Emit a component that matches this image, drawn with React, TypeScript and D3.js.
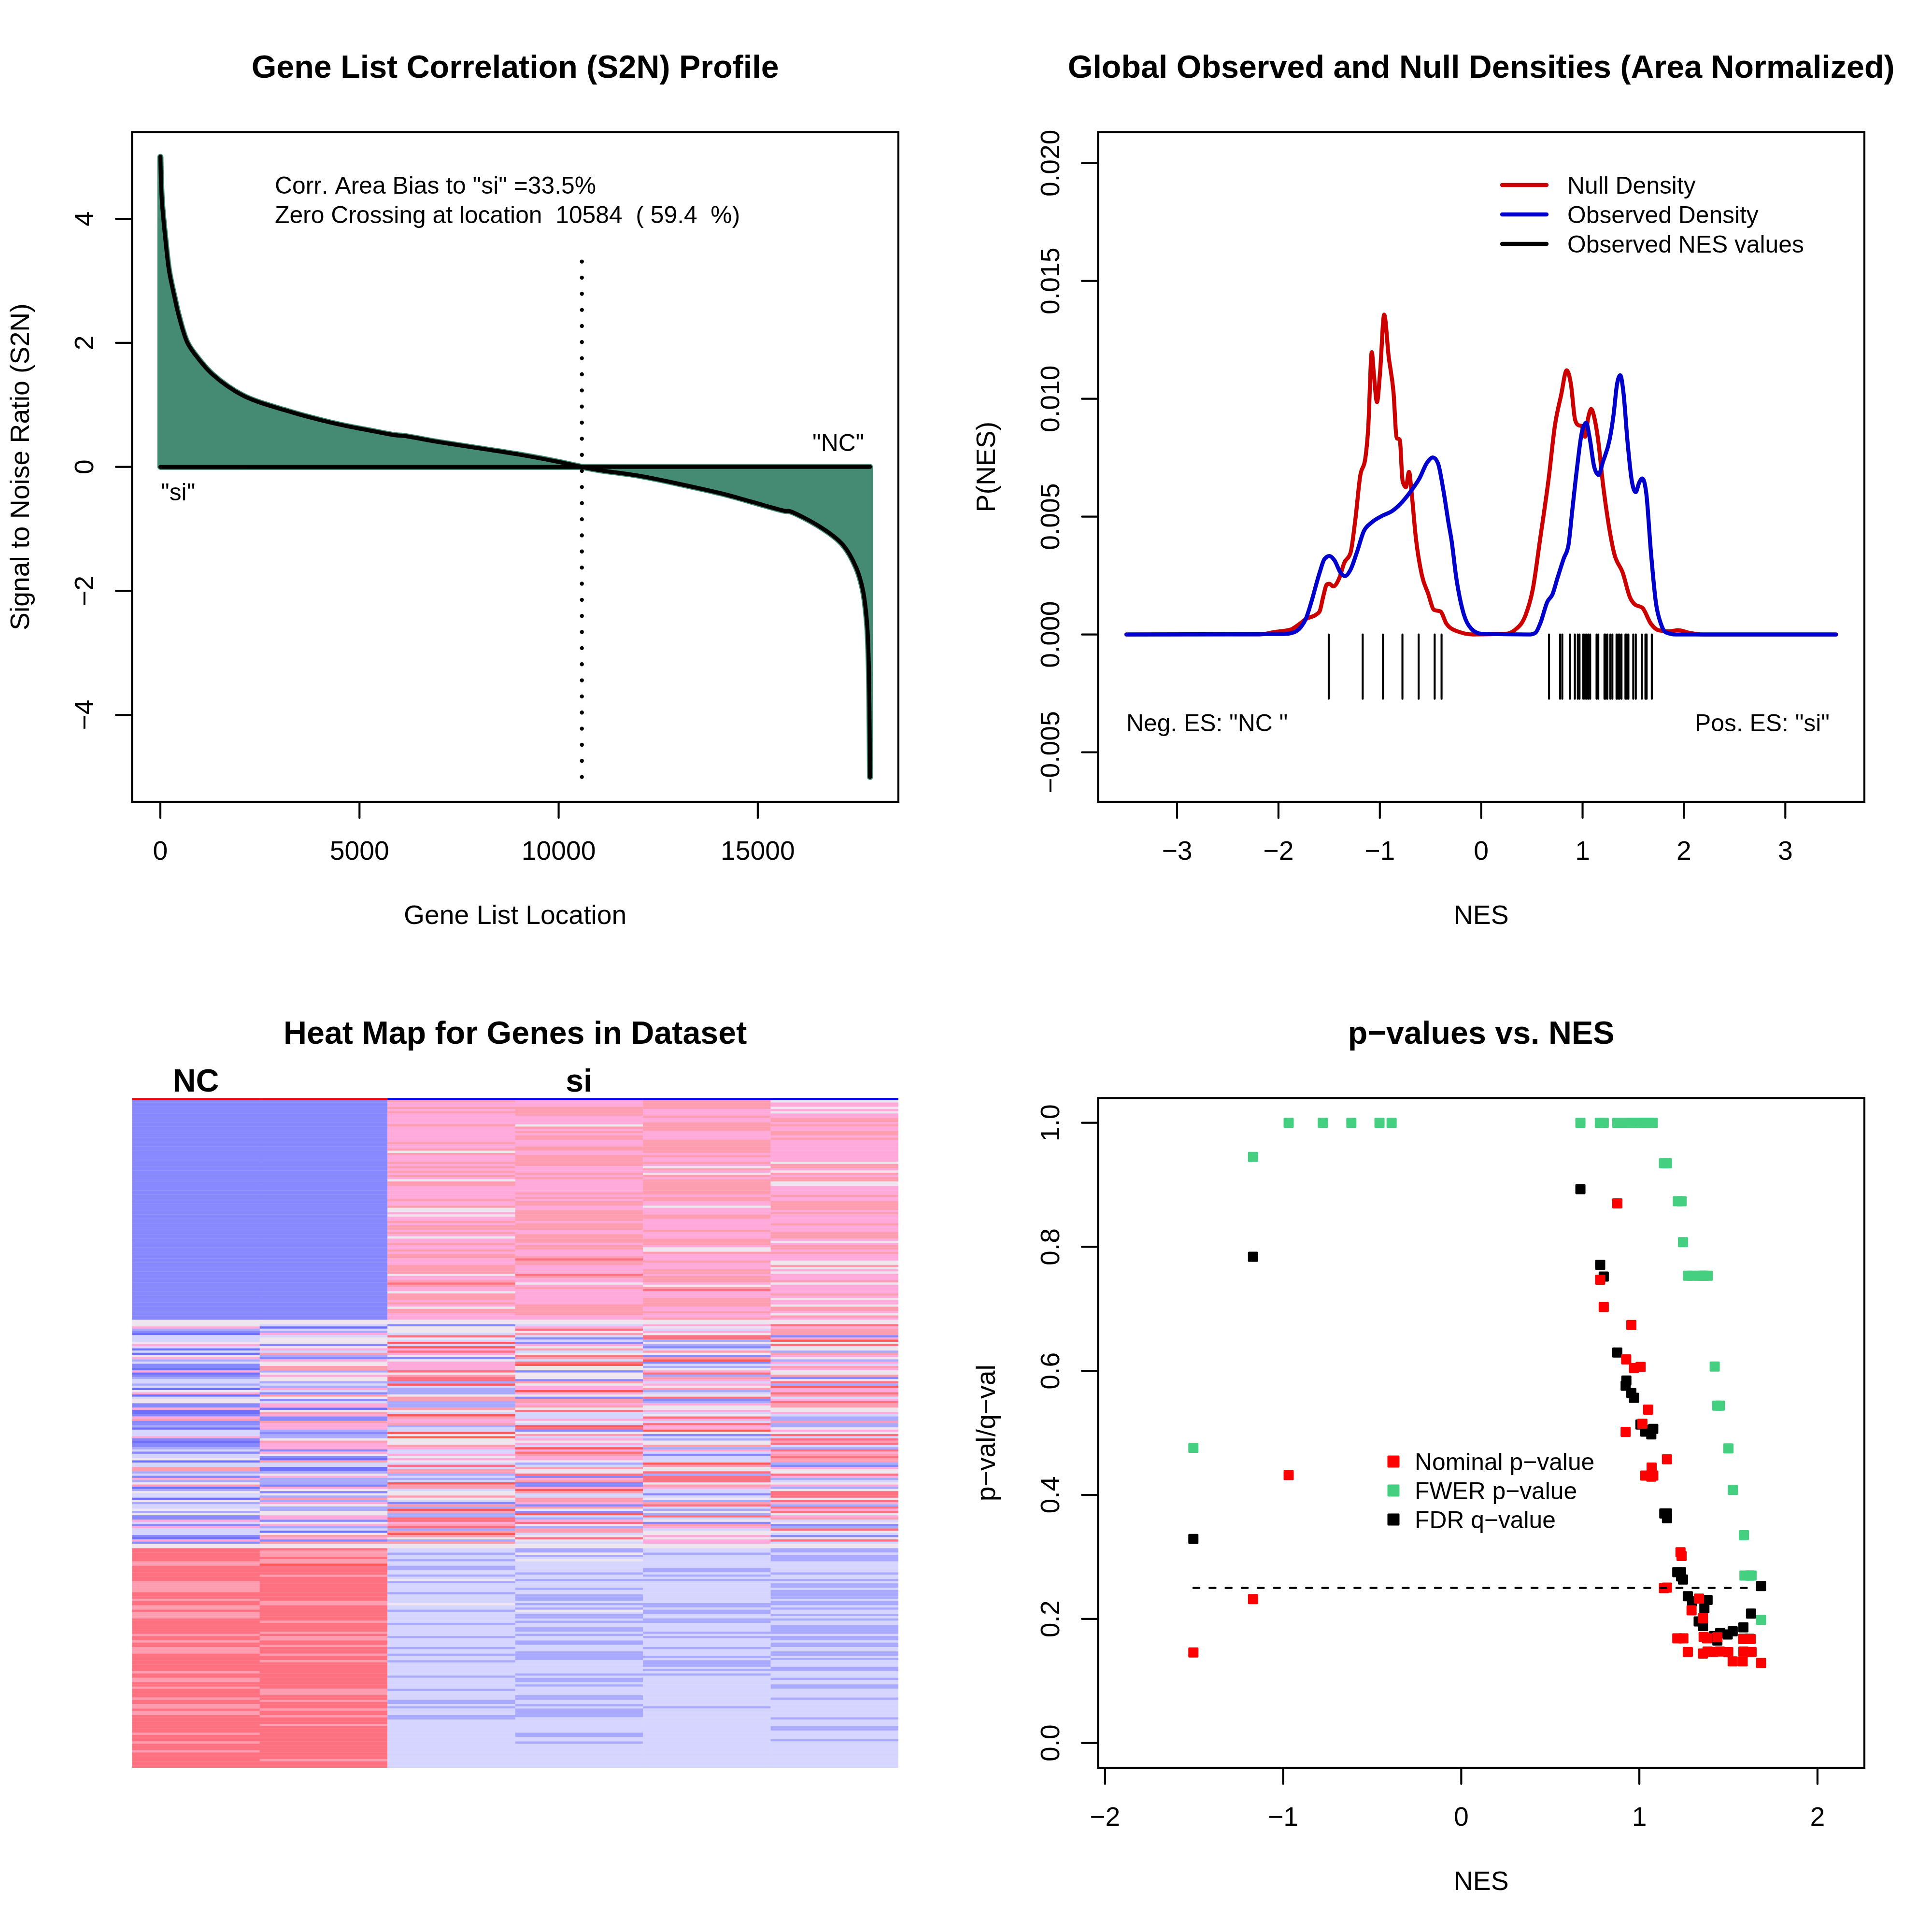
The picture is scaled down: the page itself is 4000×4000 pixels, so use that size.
import React, { useEffect, useRef } from 'react';
import * as d3 from 'd3';

// top left panel: ranked gene list
const s2nIndex = [1, 36, 118, 218, 360, 461, 679, 946, 1310, 2074, 3093, 4306, 5313, 5900, 6100, 7000, 8000, 9000, 10000, 10584, 11000, 12000, 13000, 14166, 14894, 15703, 15783, 16592, 17138, 17477, 17642, 17743, 17783, 17804, 17818];
const s2nValue = [5, 4.31, 3.72, 3.16, 2.72, 2.44, 2.0, 1.75, 1.49, 1.15, 0.92, 0.71, 0.58, 0.51, 0.5, 0.4, 0.3, 0.2, 0.08, 0, -0.05, -0.14, -0.27, -0.44, -0.57, -0.71, -0.71, -0.976, -1.255, -1.63, -1.99, -2.51, -3.07, -3.86, -5];
const zeroCross = 10584;

// top right panel: densities
const nullNes = [-3.5, -2.19, -2.04, -1.873, -1.8, -1.728, -1.63, -1.594, -1.558, -1.521, -1.497, -1.46, -1.4, -1.351, -1.29, -1.242, -1.193, -1.144, -1.115, -1.079, -1.06, -1.028, -0.998, -0.957, -0.913, -0.865, -0.833, -0.804, -0.775, -0.743, -0.712, -0.687, -0.646, -0.585, -0.524, -0.464, -0.403, -0.342, -0.245, -0.075, 0.241, 0.338, 0.436, 0.509, 0.581, 0.666, 0.727, 0.788, 0.844, 0.885, 0.927, 0.958, 0.99, 1.024, 1.056, 1.085, 1.116, 1.153, 1.201, 1.25, 1.311, 1.396, 1.469, 1.517, 1.59, 1.675, 1.748, 1.845, 1.943, 2.064, 2.186, 3.5];
const nullDensity = [0, 0, 0.0001, 0.00022, 0.00042, 0.00066, 0.00084, 0.00098, 0.00162, 0.00213, 0.00215, 0.00204, 0.00239, 0.00304, 0.00345, 0.00486, 0.00674, 0.00745, 0.00874, 0.01198, 0.0111, 0.00986, 0.0111, 0.01357, 0.0118, 0.01027, 0.00833, 0.00827, 0.0065, 0.00625, 0.0069, 0.00604, 0.00415, 0.00251, 0.00174, 0.00104, 0.00098, 0.00045, 0.00015, 0, 0.00003, 0.00021, 0.0008, 0.00192, 0.00404, 0.00663, 0.00886, 0.01015, 0.01121, 0.01062, 0.00909, 0.00888, 0.00885, 0.00839, 0.0092, 0.00957, 0.0092, 0.00827, 0.00639, 0.00486, 0.00345, 0.00262, 0.00156, 0.00127, 0.00113, 0.00045, 0.00018, 0.00013, 0.00018, 0.00006, 0, 0];
const obsNes = [-3.5, -1.946, -1.849, -1.776, -1.728, -1.679, -1.594, -1.545, -1.497, -1.448, -1.387, -1.344, -1.29, -1.229, -1.157, -1.084, -0.974, -0.877, -0.78, -0.682, -0.609, -0.537, -0.476, -0.427, -0.379, -0.318, -0.294, -0.245, -0.172, -0.099, 0, 0.484, 0.533, 0.581, 0.654, 0.703, 0.752, 0.813, 0.861, 0.897, 0.946, 0.995, 1.036, 1.068, 1.116, 1.157, 1.201, 1.267, 1.306, 1.34, 1.372, 1.403, 1.444, 1.486, 1.524, 1.559, 1.59, 1.627, 1.675, 1.724, 1.773, 1.821, 1.918, 3.5];
const obsDensity = [0, 0.00002, 0.00009, 0.00033, 0.00068, 0.00133, 0.00262, 0.00321, 0.00333, 0.00315, 0.00262, 0.00248, 0.00274, 0.00345, 0.00439, 0.00474, 0.00504, 0.00524, 0.00562, 0.00615, 0.00662, 0.00727, 0.00751, 0.00727, 0.00627, 0.00462, 0.00403, 0.00238, 0.00086, 0.00025, 0.00003, 0, 0.00006, 0.00045, 0.0014, 0.0017, 0.00239, 0.00321, 0.0038, 0.00521, 0.00709, 0.00862, 0.00898, 0.00839, 0.00709, 0.00677, 0.00733, 0.00827, 0.00933, 0.01062, 0.011, 0.01027, 0.00815, 0.00651, 0.00604, 0.00645, 0.00662, 0.00604, 0.00345, 0.00133, 0.00045, 0.00009, 0, 0];
const rugNes = [-1.504, -1.169, -0.969, -0.777, -0.617, -0.459, -0.391, 0.669, 0.778, 0.8, 0.876, 0.924, 0.953, 0.97, 1.007, 1.024, 1.041, 1.058, 1.075, 1.138, 1.155, 1.216, 1.23, 1.245, 1.274, 1.294, 1.335, 1.35, 1.364, 1.384, 1.423, 1.437, 1.452, 1.5, 1.525, 1.585, 1.62, 1.632, 1.683];

// bottom right panel: p-values
const nominalNes = [-1.504, -1.169, -0.969, 0.78, 0.8, 0.876, 0.955, 0.926, 0.97, 1.007, 1.049, 1.017, 0.923, 1.155, 1.069, 1.033, 1.067, 1.078, 1.231, 1.237, 1.138, 1.155, 1.335, 1.293, 1.357, 1.213, 1.247, 1.361, 1.38, 1.438, 1.583, 1.625, 1.272, 1.357, 1.383, 1.414, 1.452, 1.499, 1.584, 1.63, 1.524, 1.58, 1.683];
const nominalP = [0.146, 0.232, 0.432, 0.747, 0.703, 0.87, 0.674, 0.6186, 0.6047, 0.6064, 0.5376, 0.5148, 0.5017, 0.4574, 0.444, 0.4312, 0.4295, 0.4312, 0.3076, 0.3016, 0.2497, 0.2505, 0.2328, 0.2139, 0.2012, 0.1687, 0.1687, 0.171, 0.1687, 0.1705, 0.1675, 0.1675, 0.1467, 0.1442, 0.1475, 0.1467, 0.1475, 0.1465, 0.1475, 0.1467, 0.1315, 0.1315, 0.129];
const fwerNes = [-1.504, -1.169, -0.969, -0.777, -0.617, -0.459, -0.391, 0.669, 0.778, 0.8, 0.876, 0.924, 0.953, 0.97, 1.007, 1.024, 1.041, 1.058, 1.075, 1.138, 1.155, 1.216, 1.237, 1.245, 1.274, 1.294, 1.335, 1.35, 1.364, 1.384, 1.423, 1.437, 1.452, 1.5, 1.525, 1.587, 1.59, 1.62, 1.63, 1.683];
const fwerP = [0.476, 0.945, 1, 1, 1, 1, 1, 1, 1, 1, 1, 1, 1, 1, 1, 1, 1, 1, 1, 0.935, 0.935, 0.8735, 0.8735, 0.8076, 0.7534, 0.7534, 0.7534, 0.7534, 0.7534, 0.7534, 0.607, 0.544, 0.544, 0.475, 0.408, 0.335, 0.27, 0.27, 0.27, 0.1986];
const fdrNes = [-1.504, -1.169, 0.669, 0.78, 0.8, 0.876, 0.927, 0.923, 0.955, 0.97, 1.006, 1.033, 1.057, 1.078, 1.067, 1.14, 1.155, 1.155, 1.213, 1.234, 1.234, 1.245, 1.683, 1.272, 1.296, 1.383, 1.365, 1.333, 1.357, 1.627, 1.584, 1.524, 1.496, 1.454, 1.42, 1.438, 1.584, 1.62];
const fdrP = [0.329, 0.784, 0.893, 0.771, 0.752, 0.6296, 0.5844, 0.576, 0.5642, 0.5566, 0.5135, 0.502, 0.505, 0.5065, 0.4975, 0.37, 0.37, 0.3624, 0.2755, 0.2755, 0.2687, 0.2636, 0.2531, 0.2366, 0.2286, 0.2307, 0.2172, 0.196, 0.1885, 0.2087, 0.1864, 0.18, 0.175, 0.1775, 0.1724, 0.1653, 0.168, 0.168];

// bottom left panel: heat map levels, one run-length string per sample and block of rows
const heatLevels = ['B', 'C', 'D', 'E', 'F', 'G', 'H', 'I', 'J'];
const heatColors = ['#7070FF', '#8888FF', '#A9A9FF', '#D5D5FF', '#EEE5EE', '#FFAADA', '#FF9DB0', '#FF7080', '#FF5A5A'];
const heatSamples = ['s1', 's2', 's3', 's4', 's5', 's6'];
const phenotypes = ['NC', 'NC', 'si', 'si', 'si', 'si'];
const heatTop = [
  'C100',
  'C100',
  'HG2HGHG5HG7HG2HFHG3HGHGHGHGFH2G6HG2HFFGFG2HGH2GHGFG2HG2HGH2G3H4FG2HIHG2FH3GHGFH2G3',
  'G3H4G4FHGHGH2G3H2G2H5G3HGHG6HGHGH2G2H5GH3G2H4GH2G3HIH2G4IHG2FGHG7H5G2',
  'H4G3HG2H4G4H6GHG2HGFHGFHGH7GH2G2FGG2H2G5HG3H3GF2HG3HG3H2GH3GFHIG3H4G2HG2H',
  'FG2FGFG2H2GHG2H2GHG10FH2GFHGH2F2G4HG2H4GHG4HG3H3GFGH2GHG3F2HFGFG3HFG4HGFG2FH2GFHG',
];
const heatMid = [
  'F3GDCBE3FGEBEBFGDEC2BGBCDE2DEBFGBEF2C2GB2CGHC2DBE2EGCBC2DECE2FBE2H2DECGDFHBDFE2BFDE2FDFC2GECGE3CBGCF2',
  'F2EBEDGEF3CFGEHDCGF2H2DFGF2DEDGECHFCEG2BFHGC2HG3DCD2FHG3CGFCBHE2B2DFGD3CGFCFDHDGFD2F2G2CFGDEBFHGCHF2',
  'F2CF3EIFEJEJGIGFCFG4IFHI2DJED3FH2D3HFEJHG2HDE2JFJF3HGE2GFGFEIEH2DEDEJH2EF2HFECHDJHD2I2GHIDHJHFDHF2',
  'F2EGIFHECECGFHEFIHEIJF2CF3CHFG2JGFCH2GHFIE3GFEJICFHEGFGEJGIHG2FDEHF2ICGHC2GJHE2H2GCHFCJEDGIFDH2EFIFEF2',
  'F2GFEGFI2DFDCEHFCHJCEDFGIDHGEGFHDEFICDGF2GEFIGEIG2JFCEDF2HDGECE3JHF2IDI3FHGE2CEFDHIEDFDIEFCHGEF2GFG2F2',
  'F2IGH3CGJFIF2DHGFDGEHGF2HCFIDJG2IHEGIH2F2GED2HD2FGFIEIHIEDIGHIH2DCGF2IGDEFGDFI3FIGDIGIFGHEFCDIFECFIEF2',
];
const heatLow = [
  'I6H2I7H5I3HI2H2IH3I7HI2HI2H3I8HI2H2I2HI4HI2H2IH2I8HI3HI3HI7',
  'IH3IH2JI4HI11H2I7HI4HIH2I2HI3HI2HI12H3I2HI3HI2HI3HI15HI3',
  'E2DE2DE2D2E2DEFDE4DE4FE2DE5DE5DE4DE2DE2DE6DE5DE4D2EDE3D2E22',
  'D2FDEFE5DE2DE3DE2D3EDEDFED2EDE2D2EDE2D2E3D4E6DED2EDE4D2E2DED4E7D2E2DE11',
  'E2DE6D2EDEDE10D2ED2E2D2E4DEDE4DE3DED3EDEDE14DE27',
  'D2ED3E5DE2DED2ED4ED2EDE2DEDE2D4ED2ED2E2D2EDE3D2E3DE2D2E4DE8DE3D2E4DE12',
];

// panel geometry inside a 2000 x 2000 cell
const left = 273.33, right = 1860, top = 273.33, bottom = 1660;
const lwd = 4.167;
const fontFamily = '"Liberation Sans", Helvetica, Arial, sans-serif';
const labelSize = 55.33, noteSize = 49.8, titleSize = 66.4;
const midX = (left + right) / 2, midY = (top + bottom) / 2;
const red = '#FF0000', green = '#45CF80';

const expand = (lo: number, hi: number): [number, number] => [lo - 0.04 * (hi - lo), hi + 0.04 * (hi - lo)];
const minus = (s: string) => s.replace('-', '\u2212');
const decode = (s: string) => {
  const out: string[] = [];
  for (const m of s.matchAll(/([A-Z])(\d*)/g)) {
    const n = m[2] ? +m[2] : 1;
    for (let i = 0; i < n; i++) out.push(m[1]);
  }
  return out;
};

function addText(g: any, x: number, y: number, str: string, size: number, opts: any = {}) {
  return g.append('text')
    .attr('x', x)
    .attr('y', y)
    .attr('font-family', fontFamily)
    .attr('font-size', size)
    .attr('font-weight', opts.bold ? 'bold' : 'normal')
    .attr('text-anchor', opts.anchor || 'start')
    .attr('transform', opts.rotate ? `rotate(-90 ${x} ${y})` : null)
    .style('white-space', 'pre')
    .style('font-kerning', 'none')
    .text(str);
}

function addFrame(g: any, title: string, xLabel: string | null, yLabel: string | null) {
  addText(g, midX, 160.6, title, titleSize, { bold: true, anchor: 'middle' });
  if (xLabel) addText(g, midX, 1913, xLabel, labelSize, { anchor: 'middle' });
  if (yLabel) addText(g, 60, midY, yLabel, labelSize, { anchor: 'middle', rotate: true });
}

function addBox(g: any) {
  g.append('rect')
    .attr('x', left).attr('y', top)
    .attr('width', right - left).attr('height', bottom - top)
    .attr('fill', 'none').attr('stroke', 'black').attr('stroke-width', lwd);
}

function addAxes(g: any, x: any, y: any, xTicks: number[], yTicks: number[], xFormat: (d: number) => string, yFormat: (d: number) => string) {
  const ax = g.append('g').attr('transform', `translate(0,${bottom})`)
    .call(d3.axisBottom(x).tickValues(xTicks).tickSize(33.33).tickFormat(xFormat as any).offset(0));
  ax.select('.domain').remove();
  ax.selectAll('text').attr('y', 120).attr('dy', 0);
  const ay = g.append('g').attr('transform', `translate(${left},0)`)
    .call(d3.axisLeft(y).tickValues(yTicks).tickSize(33.33).tickFormat(yFormat as any).offset(0));
  ay.select('.domain').remove();
  ay.selectAll('text')
    .attr('x', 0).attr('y', -80).attr('dy', 0)
    .attr('text-anchor', 'middle')
    .attr('transform', 'rotate(-90)');
  for (const a of [ax, ay]) {
    a.attr('font-family', fontFamily).attr('font-size', labelSize);
    a.selectAll('line').attr('stroke-width', lwd).attr('stroke', 'black').attr('stroke-linecap', 'round');
    a.selectAll('text').attr('fill', 'black').style('font-kerning', 'none');
  }
}

function drawProfile(g: any) {
  addFrame(g, 'Gene List Correlation (S2N) Profile', 'Gene List Location', 'Signal to Noise Ratio (S2N)');
  const x = d3.scaleLinear().domain(expand(1, 17818)).range([left, right]);
  const y = d3.scaleLinear().domain(expand(-5, 5)).range([bottom, top]);
  const points = s2nIndex.map((d, i) => [d, s2nValue[i]]);
  const smooth = d3.curveCatmullRom.alpha(0.5);

  const area = d3.area<number[]>().x(d => x(d[0])).y0(y(0)).y1(d => y(d[1])).curve(smooth);
  g.append('path').attr('d', area(points))
    .attr('fill', '#458B74').attr('stroke', '#458B74')
    .attr('stroke-width', 3 * lwd).attr('stroke-linejoin', 'round');

  const line = d3.line<number[]>().x(d => x(d[0])).y(d => y(d[1])).curve(smooth);
  g.append('path').attr('d', line(points))
    .attr('fill', 'none').attr('stroke', 'black')
    .attr('stroke-width', 2 * lwd).attr('stroke-linecap', 'round').attr('stroke-linejoin', 'round');
  g.append('line')
    .attr('x1', x(1)).attr('x2', x(17818)).attr('y1', y(0)).attr('y2', y(0))
    .attr('stroke', 'black').attr('stroke-width', 2 * lwd).attr('stroke-linecap', 'round');

  // drawn upward so that the last dot sits on the bottom of the range
  g.append('line')
    .attr('x1', x(zeroCross)).attr('x2', x(zeroCross)).attr('y1', y(-5)).attr('y2', y(3.33))
    .attr('stroke', 'black').attr('stroke-width', 2 * lwd)
    .attr('stroke-linecap', 'round').attr('stroke-dasharray', `0.01 ${8 * lwd}`);

  addText(g, 569, 401, 'Corr. Area Bias to "si" =33.5%', noteSize);
  addText(g, 569, 462, `Zero Crossing at location  ${zeroCross}  ( 59.4  %)`, noteSize);
  addText(g, 1682, 934, '"NC"', noteSize);
  addText(g, 333, 1035.5, '"si"', noteSize);

  addAxes(g, x, y, [0, 5000, 10000, 15000], [-4, -2, 0, 2, 4], d => String(d), d => minus(String(d)));
  addBox(g);
}

function drawDensities(g: any) {
  addFrame(g, 'Global Observed and Null Densities (Area Normalized)', 'NES', 'P(NES)');
  const x = d3.scaleLinear().domain(expand(-3.5, 3.5)).range([left, right]);
  const y = d3.scaleLinear().domain([-0.0071, 0.02132]).range([bottom, top]);
  const line = d3.line<number[]>().x(d => x(d[0])).y(d => y(d[1])).curve(d3.curveMonotoneX);

  const series: [number[], number[], string][] = [
    [nullNes, nullDensity, '#CD0000'],
    [obsNes, obsDensity, '#0000CD'],
  ];
  series.forEach(([xs, ys, color]) => {
    g.append('path').attr('d', line(xs.map((d, i) => [d, ys[i]])))
      .attr('fill', 'none').attr('stroke', color)
      .attr('stroke-width', 2 * lwd).attr('stroke-linecap', 'round').attr('stroke-linejoin', 'round');
  });

  g.append('g').selectAll('line').data(rugNes).join('line')
    .attr('x1', (d: number) => x(d)).attr('x2', (d: number) => x(d))
    .attr('y1', y(0)).attr('y2', y(-0.00273))
    .attr('stroke', 'black').attr('stroke-width', lwd).attr('stroke-linecap', 'round');

  const legend: [string, string][] = [['Null Density', '#CD0000'], ['Observed Density', '#0000CD'], ['Observed NES values', 'black']];
  legend.forEach(([label, color], i) => {
    const ly = 383 + i * 61;
    g.append('line').attr('x1', 1110).attr('x2', 1202).attr('y1', ly).attr('y2', ly)
      .attr('stroke', color).attr('stroke-width', 2 * lwd).attr('stroke-linecap', 'round');
    addText(g, 1245, ly + 18, label, noteSize);
  });

  addText(g, 332, 1514, 'Neg. ES: "NC "', noteSize);
  addText(g, 1788, 1514, 'Pos. ES: "si"', noteSize, { anchor: 'end' });

  addAxes(g, x, y, [-3, -2, -1, 0, 1, 2, 3], [-0.005, 0, 0.005, 0.01, 0.015, 0.02], d => minus(String(d)), d => minus(d3.format('.3f')(d)));
  addBox(g);
}

function drawHeatMap(g: any) {
  addFrame(g, 'Heat Map for Genes in Dataset', null, null);
  const columns = heatSamples.map((_, i) => [...decode(heatTop[i]), ...decode(heatMid[i]), ...decode(heatLow[i])]);
  const rowCount = columns[0].length + 1;
  const x = d3.scaleBand<string>().domain(heatSamples).range([left, right]);
  const y = d3.scaleBand<number>().domain(d3.range(rowCount)).range([top, bottom]);
  const color = d3.scaleOrdinal<string, string>().domain(heatLevels).range(heatColors);
  // a small overlap keeps the seams between neighbouring cells faint
  const overlap = 0.3;

  heatSamples.forEach((s, c) => {
    const col = g.append('g');
    col.selectAll('rect.cell').data(columns[c]).join('rect')
      .attr('class', 'cell')
      .attr('x', x(s))
      .attr('y', (_: string, r: number) => y(r + 1))
      .attr('width', x.bandwidth() + (c < 5 ? overlap : 0))
      .attr('height', (_: string, r: number) => y.bandwidth() + (r + 2 < rowCount ? overlap : 0))
      .attr('fill', (d: string) => color(d));
    col.append('rect')
      .attr('x', x(s)).attr('y', y(0)).attr('width', x.bandwidth() + (c < 5 ? overlap : 0)).attr('height', y.bandwidth())
      .attr('fill', phenotypes[c] === 'NC' ? '#FF0000' : '#0000FF');
  });

  addText(g, x('s1')! + x.bandwidth() / 2, 260, 'NC', titleSize, { bold: true, anchor: 'middle' });
  addText(g, x('s4')! + x.bandwidth() / 2, 260, 'si', titleSize, { bold: true, anchor: 'middle' });
}

function drawPValues(g: any) {
  addFrame(g, 'p\u2212values vs. NES', 'NES', 'p\u2212val/q\u2212val');
  const x = d3.scaleLinear().domain(expand(-1.88, 2.104)).range([left, right]);
  const y = d3.scaleLinear().domain(expand(0, 1)).range([bottom, top]);
  const size = 21, legendSize = 25;

  const series: [number[], number[], string][] = [
    [fwerNes, fwerP, green],
    [fdrNes, fdrP, 'black'],
    [nominalNes, nominalP, red],
  ];
  series.forEach(([xs, ys, color]) => {
    g.append('g').selectAll('rect').data(xs.map((d, i) => [d, ys[i]])).join('rect')
      .attr('x', (d: number[]) => x(d[0]) - size / 2)
      .attr('y', (d: number[]) => y(d[1]) - size / 2)
      .attr('width', size).attr('height', size).attr('rx', 2)
      .attr('fill', color);
  });

  g.append('line')
    .attr('x1', x(-1.504)).attr('x2', x(1.683)).attr('y1', y(0.25)).attr('y2', y(0.25))
    .attr('stroke', 'black').attr('stroke-width', lwd).attr('stroke-linecap', 'round')
    .attr('stroke-dasharray', `${3 * lwd} ${5 * lwd}`);

  const legend: [string, string][] = [['Nominal p\u2212value', red], ['FWER p\u2212value', green], ['FDR q\u2212value', 'black']];
  legend.forEach(([label, color], i) => {
    const ly = 1026 + i * 60;
    g.append('rect').attr('x', 885 - legendSize / 2).attr('y', ly - legendSize / 2)
      .attr('width', legendSize).attr('height', legendSize).attr('rx', 2).attr('fill', color);
    addText(g, 929, ly + 18, label, noteSize);
  });

  addAxes(g, x, y, [-2, -1, 0, 1, 2], [0, 0.2, 0.4, 0.6, 0.8, 1], d => minus(String(d)), d => d3.format('.1f')(d));
  addBox(g);
}

export default function App() {
  const ref = useRef<SVGSVGElement>(null);

  useEffect(() => {
    const svg = d3.select(ref.current);
    svg.selectAll('*').remove();
    svg.append('rect').attr('width', 4000).attr('height', 4000).attr('fill', 'white');
    const cell = (ox: number, oy: number) => svg.append('g').attr('transform', `translate(${ox},${oy})`);
    drawProfile(cell(0, 0));
    drawDensities(cell(2000, 0));
    drawHeatMap(cell(0, 2000));
    drawPValues(cell(2000, 2000));
  }, []);

  return <svg ref={ref} width={4000} height={4000} style={{ position: 'absolute', left: 0, top: 0, display: 'block' }} />;
}
